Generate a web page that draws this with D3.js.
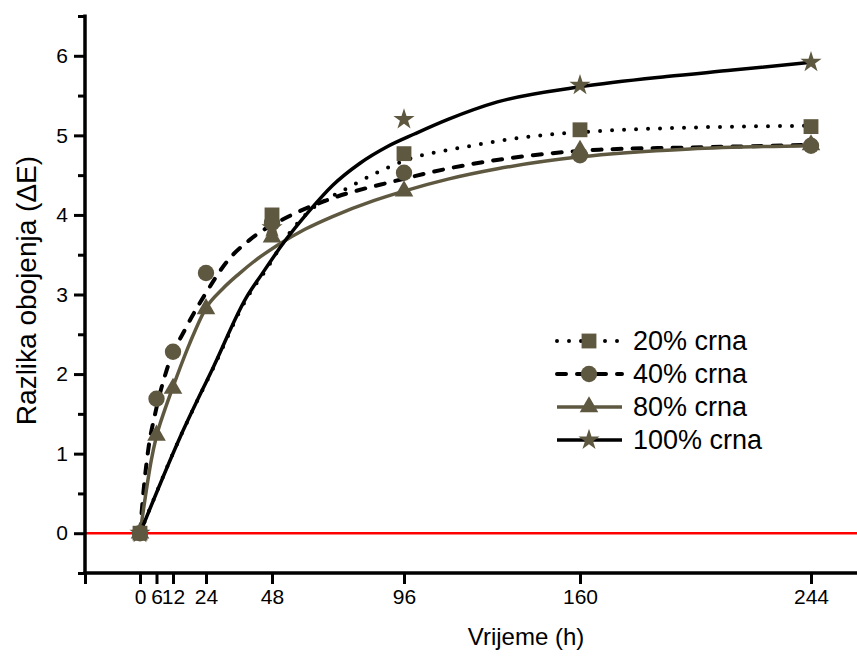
<!DOCTYPE html>
<html>
<head>
<meta charset="utf-8">
<script src="https://cdn.jsdelivr.net/npm/d3@7"></script>
<style>
  html, body { margin: 0; padding: 0; background: #fff; }
  svg { display: block; font-family: Arial, "Liberation Sans", Helvetica, sans-serif; }
</style>
</head>
<body>
<svg id="chart" width="857" height="662"></svg>
<script>
// ---- Data ----
const xTicks = [0, 6, 12, 24, 48, 96, 160, 244];
const yTicks = [0, 1, 2, 3, 4, 5, 6];
const seriesNames = ["20% crna", "40% crna", "80% crna", "100% crna"];

// measured points [hours, ΔE]
const pts20 = [[0, 0], [48, 4.0], [96, 4.77], [160, 5.07], [244, 5.11]];
const pts40 = [[0, 0], [6, 1.69], [12, 2.28], [24, 3.27], [48, 3.9], [96, 4.53], [160, 4.75], [244, 4.87]];
const pts80 = [[0, 0], [6, 1.23], [12, 1.82], [24, 2.82], [48, 3.72], [96, 4.3], [160, 4.81], [244, 4.88]];
const pts100 = [[0, 0], [48, 3.84], [96, 5.2], [160, 5.63], [244, 5.92]];

// fitted curves
const fit20 = [[0, 0], [14.5, 1.2], [26.7, 2.08], [38.8, 2.95], [46, 3.32], [55, 3.8], [62, 4.06], [68, 4.2], [74, 4.31], [86, 4.53], [96, 4.68], [119, 4.86], [143, 4.99], [165, 5.05], [192, 5.09], [244, 5.12]];
const fit40 = [[0, 0], [1.2, 0.5], [3, 1.05], [5.5, 1.5], [9.7, 2.05], [17, 2.6], [24, 3.02], [32, 3.43], [40, 3.69], [54, 3.98], [70, 4.21], [92, 4.42], [119, 4.63], [143, 4.75], [167, 4.82], [204, 4.85], [244, 4.88]];
const fit80 = [[0, 0], [2, 0.47], [4, 0.9], [6, 1.22], [9, 1.55], [12, 1.84], [18, 2.38], [24, 2.83], [30, 3.07], [36, 3.26], [42, 3.43], [50, 3.62], [60, 3.82], [70, 3.98], [85, 4.18], [96, 4.3], [112, 4.45], [130, 4.58], [160, 4.73], [200, 4.83], [244, 4.87]];
const fit100 = [[0, 0], [14.5, 1.2], [26.7, 2.09], [38.8, 2.97], [44.2, 3.25], [52, 3.64], [61.8, 4.06], [70, 4.37], [80, 4.65], [90, 4.86], [100, 5.02], [112, 5.2], [130, 5.42], [160, 5.61], [191.5, 5.74], [215.6, 5.82], [244, 5.92]];

// ---- Setup ----
const svg = d3.select("#chart");
const markerColor = "#5f5840";
const x = d3.scaleLinear().domain([-20, 260]).range([85, 855]);
const y = d3.scaleLinear().domain([-0.5, 6.5]).range([573, 16]);

const series = [
  { name: seriesNames[0], pts: pts20, fit: fit20, color: "#000", dash: "0 12", width: 4, cap: "round", symbol: d3.symbolSquare, size: 220 },
  { name: seriesNames[1], pts: pts40, fit: fit40, color: "#000", dash: "9 11", width: 4, cap: "round", symbol: d3.symbolCircle, size: 210 },
  { name: seriesNames[2], pts: pts80, fit: fit80, color: markerColor, dash: null, width: 3.5, cap: "butt", symbol: d3.symbolTriangle, size: 150 },
  { name: seriesNames[3], pts: pts100, fit: fit100, color: "#000", dash: null, width: 3.5, cap: "butt", symbol: d3.symbolStar, size: 140 }
];

// red zero line
svg.append("line")
  .attr("x1", x(-20)).attr("x2", 857)
  .attr("y1", y(0)).attr("y2", y(0))
  .attr("stroke", "#ff0000").attr("stroke-width", 2.5);

// axes
const yMajor = d3.axisLeft(y).tickValues(yTicks).tickSize(11).tickPadding(6).tickFormat(d3.format("d"));
const yMinor = d3.axisLeft(y).tickValues([-0.5, 0.5, 1.5, 2.5, 3.5, 4.5, 5.5, 6.5]).tickSize(7).tickFormat("");
const xMajor = d3.axisBottom(x).tickValues(xTicks).tickSize(11).tickPadding(5).tickFormat(d3.format("d"));
const xEnd = d3.axisBottom(x).tickValues([-20]).tickSize(11).tickFormat("");

function styleAxis(g) {
  g.select(".domain").remove();
  g.selectAll(".tick line").attr("stroke", "#000").attr("stroke-width", 3);
  g.selectAll(".tick text").attr("fill", "#000").style("font-size", "21px")
   .style("font-family", "Arial, 'Liberation Sans', sans-serif");
}
svg.append("g").attr("transform", `translate(0,${y(-0.5)})`).call(xMajor).call(styleAxis);
svg.append("g").attr("transform", `translate(0,${y(-0.5)})`).call(xEnd).call(styleAxis);
svg.append("g").attr("transform", `translate(${x(-20)},0)`).call(yMajor).call(styleAxis);
svg.append("g").attr("transform", `translate(${x(-20)},0)`).call(yMinor).call(styleAxis);

// axis lines
svg.append("line").attr("x1", x(-20)).attr("x2", x(-20)).attr("y1", y(6.5) - 1.5).attr("y2", y(-0.5) + 1.5)
  .attr("stroke", "#000").attr("stroke-width", 3.5);
svg.append("line").attr("x1", x(-20) - 1.5).attr("x2", 857).attr("y1", y(-0.5)).attr("y2", y(-0.5))
  .attr("stroke", "#000").attr("stroke-width", 3.5);

// axis titles
svg.append("text").attr("x", 526).attr("y", 645).attr("text-anchor", "middle")
  .style("font-size", "24px").attr("fill", "#000").text("Vrijeme (h)");
svg.append("text").attr("transform", `translate(36,${y(3.05)}) rotate(-90)`).attr("text-anchor", "middle")
  .style("font-size", "28px").attr("fill", "#000").text("Razlika obojenja (ΔE)");

// curves
const line = d3.line().x(d => x(d[0])).y(d => y(d[1])).curve(d3.curveMonotoneX);
series.forEach(s => {
  svg.append("path").datum(s.fit)
    .attr("d", line)
    .attr("fill", "none")
    .attr("stroke", s.color)
    .attr("stroke-width", s.width)
    .attr("stroke-linecap", s.cap)
    .attr("stroke-dasharray", s.dash);
});

// markers
series.forEach(s => {
  svg.append("g").selectAll("path").data(s.pts).join("path")
    .attr("transform", d => `translate(${x(d[0])},${y(d[1])})`)
    .attr("d", d3.symbol().type(s.symbol).size(s.size))
    .attr("fill", markerColor);
});

// legend
const legY = [341, 374, 407, 440];
series.forEach((s, i) => {
  const g = svg.append("g").attr("transform", `translate(0,${legY[i]})`);
  g.append("line").attr("x1", 557).attr("x2", 622).attr("y1", 0).attr("y2", 0)
    .attr("stroke", s.color).attr("stroke-width", s.width)
    .attr("stroke-linecap", s.cap).attr("stroke-dasharray", s.dash);
  g.append("path").attr("transform", "translate(589,0)")
    .attr("d", d3.symbol().type(s.symbol).size(s.size)).attr("fill", markerColor);
  g.append("text").attr("x", 633).attr("y", 0).attr("dy", "0.35em")
    .style("font-size", "27px").attr("fill", "#000").text(s.name);
});
</script>
</body>
</html>
